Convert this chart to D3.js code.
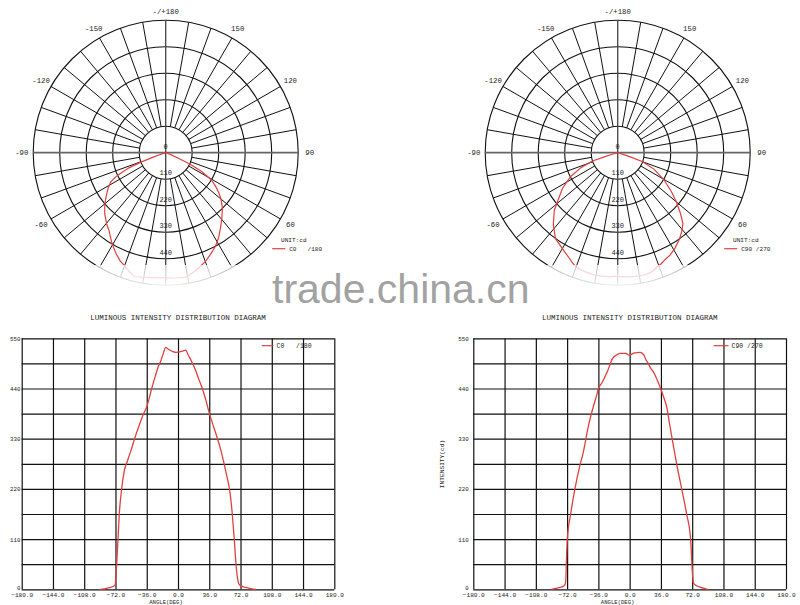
<!DOCTYPE html>
<html><head><meta charset="utf-8">
<script src="https://cdn.jsdelivr.net/npm/d3@7"></script>
<style>
body{margin:0;background:#fff}
svg{display:block}
text{font-family:"Liberation Mono","DejaVu Sans Mono",monospace;fill:#222}
</style>
</head><body>
<svg id="c" width="800" height="605"></svg>
<script>
// ---------- data ----------
const c0Angles = [-90,-85,-80,-75,-72.3,-71.5,-70.6,-69.1,-67.6,-64.9,-62,-58.5,-54,-50,-45,-39.5,-36,-33,-30.3,-26,-22.7,-19.5,-16.9,-14.2,-11,-6,-2,2,5,8.9,11.9,15,20,24,28,32,35.5,40,45.5,50,53,56,59.3,62.5,64.8,66.8,68.5,70,72,78,85,90];
const c0Values = [0,1,3,6,10,30,55,110,165,220,258,280,305,330,358,385,400,420,440,468,488,502,517,530,526,521,519,520,522,524,513,502,481,460,440,415,390,362,330,300,276,250,220,165,110,55,25,12,8,4,1,0];
const c90Angles = [-90,-85,-80,-76,-74,-73.3,-72.9,-71.8,-67.9,-63,-57.2,-53.4,-47.7,-41.9,-38,-36,-32,-28.4,-25,-22.7,-20,-16.9,-11.2,-4.3,-2,0,3,6.1,11.9,14.5,16.5,19,21.4,24,27.2,31,35.7,39,42.6,46,50,54.1,59.9,65.6,70.2,71.7,72.5,73.5,76,81,86,90];
const c90Values = [0,2,4,7,12,30,55,110,165,220,272,300,356,400,425,440,452,466,480,492,505,511,517,517,514,513,516,518,519,517,513,502,495,485,477,462,440,422,400,362,318,275,220,165,110,55,30,14,9,5,2,0];

const xTicks = [-180,-144,-108,-72,-36,0,36,72,108,144,180];
const yGrid = [0,55,110,165,220,275,330,385,440,495,550];
const yLabels = [0,110,220,330,440,550];
const polarRings = [110,220,330,440,550];
const polarRingLabels = [0,110,220,330,440];
const polarAngleLabels = [180,150,-150,120,-120,90,-90,60,-60];
const titleText = "LUMINOUS INTENSITY DISTRIBUTION DIAGRAM";
const c0Legend = "C0   /180";
const c90Legend = "C90 /270";

// ---------- drawing ----------
const svg = d3.select("#c");
const RED = "#e2403f";
const FONT = '"Liberation Mono","DejaVu Sans Mono",monospace';

function lineChart(x0, x1, angles, values, legend, leg, yLabelX, yTitle) {
  const top = 338.3, bottom = 589.3;
  const x = d3.scaleLinear().domain([-180,180]).range([x0,x1]);
  const y = d3.scaleLinear().domain([0,550]).range([bottom, top]);
  const g = svg.append("g");

  const xa = g.append("g").attr("transform", `translate(0,${bottom})`)
    .call(d3.axisBottom(x).tickValues(xTicks).tickSize(-(bottom-top)).tickFormat(d3.format(".1f")));
  xa.select(".domain").remove();
  xa.selectAll("line").attr("stroke","#111").attr("stroke-width",1.2);
  xa.selectAll("text").attr("y",5.6).attr("dy","0.35em").attr("font-size",6.1)
    .attr("font-family",FONT).attr("fill","#222");

  const ya = g.append("g").attr("transform", `translate(${x0},0)`)
    .call(d3.axisLeft(y).tickValues(yGrid).tickSize(-(x1-x0)).tickFormat(d => yLabels.includes(d) ? d : ""));
  ya.select(".domain").remove();
  ya.selectAll("line").attr("stroke","#111").attr("stroke-width",1.2);
  ya.selectAll("text").attr("x",yLabelX).attr("y", d => d === 0 ? -2 : 0).attr("dy","0.35em").attr("font-size",5.8)
    .attr("font-family",FONT).attr("fill","#222");

  const data = angles.map((a,i)=>[a, values[i]]);
  g.append("path").datum(data)
    .attr("fill","none").attr("stroke",RED).attr("stroke-width",1.3)
    .attr("d", d3.line().x(d=>x(d[0])).y(d=>y(d[1])).curve(d3.curveMonotoneX));

  const cx = (x0+x1)/2;
  g.append("text").attr("x",cx).attr("y",317).attr("dy","0.35em").attr("text-anchor","middle")
    .attr("font-size",7.5).text(titleText);
  g.append("text").attr("x",cx-12).attr("y",601.8).attr("dy","0.35em").attr("text-anchor","middle")
    .attr("font-size",5.6).text("ANGLE(DEG)");

  g.append("line").attr("x1",leg[0]).attr("x2",leg[1]).attr("y1",345.7).attr("y2",345.7)
    .attr("stroke",RED).attr("stroke-width",1.2);
  g.append("text").attr("x",leg[1]+3).attr("y",346).attr("dy","0.35em")
    .attr("font-size",6.5).attr("xml:space","preserve").style("white-space","pre").text(legend);

  if (yTitle) {
    g.append("text").attr("transform",`translate(441.7,464) rotate(-90)`).attr("dy","0.35em")
      .attr("text-anchor","middle").attr("font-size",6.2).text(yTitle);
  }
}

lineChart(21.7, 334.3, c0Angles, c0Values, c0Legend, [261.7,273.5], -1.2, null);
lineChart(473.3, 786, c90Angles, c90Values, c90Legend, [713.5,728.5], -4.5, "INTENSITY(cd)");

// clip for polar charts
const defs = svg.append("defs");
defs.append("clipPath").attr("id","pclip").append("rect").attr("x",0).attr("y",0).attr("width",800).attr("height",287);
const grad = defs.append("linearGradient").attr("id","fade").attr("x1",0).attr("y1",0).attr("x2",0).attr("y2",1);
grad.append("stop").attr("offset","0").attr("stop-color","#fff").attr("stop-opacity",0.72);
grad.append("stop").attr("offset","0.7").attr("stop-color","#fff").attr("stop-opacity",0.85);
grad.append("stop").attr("offset","1").attr("stop-color","#fff").attr("stop-opacity",1);

function polar(cx, cy, angles, values, legend) {
  const R = 132.5;
  const r = d3.scaleLinear().domain([0,550]).range([0,R]);
  const g = svg.append("g").attr("clip-path","url(#pclip)")
    .append("g").attr("transform",`translate(${cx},${cy})`);

  const rad = d => d*Math.PI/180;
  // radial lines every 10 degrees
  const spokes = d3.range(0,360,10).filter(a => a % 90 !== 0);
  g.selectAll("line.sp").data(spokes).join("line")
    .attr("x1",a=>r(110)*Math.sin(rad(a))).attr("y1",a=>r(110)*Math.cos(rad(a)))
    .attr("x2",a=>R*Math.sin(rad(a))).attr("y2",a=>R*Math.cos(rad(a)))
    .attr("stroke","#111").attr("stroke-width",1);
  g.selectAll("circle").data(polarRings).join("circle")
    .attr("r",d=>r(d)).attr("fill","none").attr("stroke","#111").attr("stroke-width",1.1);
  g.append("line").attr("x1",-R).attr("x2",R).attr("y1",0).attr("y2",0)
    .attr("stroke","#666").attr("stroke-width",1.8);
  g.append("line").attr("x1",0).attr("x2",0).attr("y1",-R).attr("y2",R)
    .attr("stroke","#444").attr("stroke-width",1.3);

  const data = angles.map((a,i)=>[a, values[i]]);
  g.append("path").datum(data).attr("fill","none").attr("stroke",RED).attr("stroke-width",1.2)
    .attr("d", d3.lineRadial().angle(d=>Math.PI - rad(d[0])).radius(d=>r(d[1])).curve(d3.curveLinear));

  g.selectAll("text.rl").data(polarRingLabels).join("text")
    .attr("x",0).attr("y",d=>r(d)-6.5).attr("dy","0.35em").attr("text-anchor","middle")
    .attr("font-size",7).attr("fill","#111")
    .text(d=>d);

  g.selectAll("text.al").data(polarAngleLabels).join("text")
    .attr("x",a=>144*Math.sin(rad(a))).attr("y",a=>144*Math.cos(rad(a)) - (a===180?-3:0))
    .attr("dy","0.35em").attr("text-anchor","middle").attr("font-size",7.3).attr("fill","#333")
    .text(a => a===180 ? "-/+180" : a);

  g.append("text").attr("x",115.3).attr("y",87.5).attr("dy","0.35em").attr("font-size",6.1).text("UNIT:cd");
  g.append("line").attr("x1",106.5).attr("x2",119.5).attr("y1",96).attr("y2",96).attr("stroke",RED).attr("stroke-width",1.2);
  g.append("text").attr("x",123.5).attr("y",96.3).attr("dy","0.35em").attr("font-size",6.1)
    .attr("xml:space","preserve").style("white-space","pre").text(legend);
}

polar(165.7, 152.7, c0Angles, c0Values, c0Legend);
polar(617.7, 152.7, c90Angles, c90Values, c90Legend);

// faded band below polar charts
svg.append("rect").attr("x",0).attr("y",265).attr("width",800).attr("height",24).attr("fill","url(#fade)");

// watermark
svg.append("text").attr("x",272).attr("y",302.5)
  .attr("font-size",41)
  .style("font-family",'"Liberation Sans",Arial,sans-serif')
  .style("fill","#a2a2a2").text("trade.china.cn");
</script>
</body></html>
